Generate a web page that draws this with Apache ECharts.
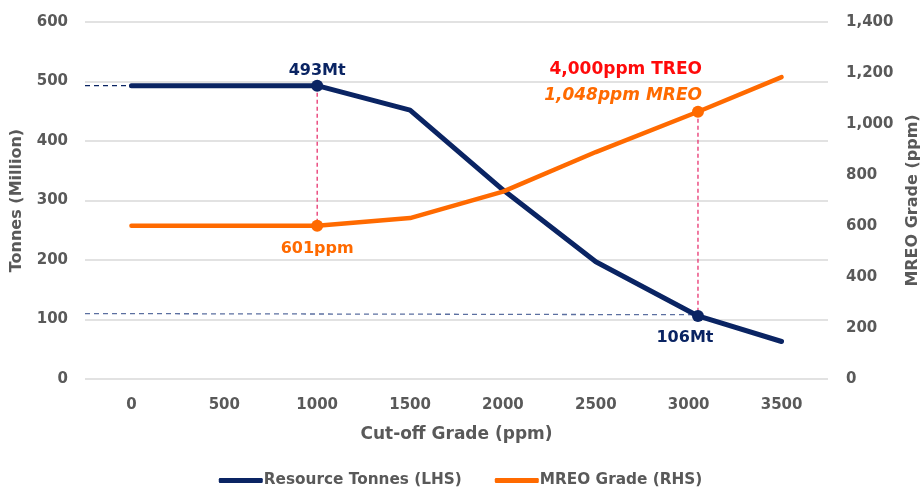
<!DOCTYPE html>
<html>
<head>
<meta charset="utf-8">
<script src="https://cdn.jsdelivr.net/npm/echarts@6/dist/echarts.min.js"></script>
<style>html,body{margin:0;padding:0;background:#fff}#c{width:921px;height:494px}</style>
</head>
<body>
<div id="c"></div>
<script>
// ---- data ----
var categories = ['0','500','1000','1500','2000','2500','3000','3500'];
var cutoff = [0, 500, 1000, 1500, 2000, 2500, 3050, 3500];
var tonnes = [493, 493, 493, 452, 318, 197, 106, 63];
var grade = [601, 601, 601, 631, 735, 890, 1048, 1184];
var leftTicks = [0, 600, 100];
var rightTicks = [0, 1400, 200];
var markA = {cutoff: 1000, tonnes: 493, grade: 601};
var markB = {cutoff: 3050, tonnes: 106, grade: 1048, treo: '4,000ppm TREO', mreo: '1,048ppm MREO'};
var guideTonnesB = 110;

var NAVY = '#0a2463', ORANGE = '#ff6a00', GRAY = '#595959', PINK = '#e8336f', RED = '#ff0a0a';
var FONT = 'DejaVu Sans';
function pairs(xs, ys){ return xs.map(function(x,i){ return [x, ys[i]]; }); }
var ratio = leftTicks[1] / rightTicks[1];

var chart = echarts.init(document.getElementById('c'));
chart.setOption({
  animation: false,
  textStyle: {fontFamily: FONT},
  grid: {left: 85, right: 93, top: 22, bottom: 115, containLabel: false, outerBoundsMode: 'none'},
  legend: {
    bottom: 1, left: 'center', itemWidth: 44, itemHeight: 5, itemGap: 33,
    icon: 'roundRect',
    data: ['Resource Tonnes (LHS)', 'MREO Grade (RHS)'],
    textStyle: {color: GRAY, fontWeight: 'bold', fontSize: 15.3, fontFamily: FONT, padding: [0,0,0,-4]}
  },
  xAxis: [
    {type: 'category', data: categories, boundaryGap: true,
     axisLine: {show: false}, axisTick: {show: false},
     axisLabel: {color: GRAY, fontWeight: 'bold', fontSize: 15, fontFamily: FONT, margin: 19},
     name: 'Cut-off Grade (ppm)', nameLocation: 'middle', nameGap: 47,
     nameTextStyle: {color: GRAY, fontWeight: 'bold', fontSize: 17, fontFamily: FONT}},
    {type: 'value', min: -250, max: 3750, show: false}
  ],
  yAxis: [
    {type: 'value', min: leftTicks[0], max: leftTicks[1], interval: leftTicks[2],
     axisLine: {show: false}, axisTick: {show: false},
     splitLine: {lineStyle: {color: '#d9d9d9', width: 1.5}},
     axisLabel: {color: GRAY, fontWeight: 'bold', fontSize: 15, fontFamily: FONT, margin: 17},
     name: 'Tonnes (Million)', nameLocation: 'middle', nameRotate: 90, nameGap: 60,
     nameTextStyle: {color: GRAY, fontWeight: 'bold', fontSize: 16, fontFamily: FONT}},
    {type: 'value', min: rightTicks[0], max: rightTicks[1], interval: rightTicks[2],
     axisLine: {show: false}, axisTick: {show: false}, splitLine: {show: false},
     axisLabel: {color: GRAY, fontWeight: 'bold', fontSize: 15, fontFamily: FONT, margin: 18,
       formatter: function(v){ return v.toLocaleString('en-US'); }},
     name: 'MREO Grade (ppm)', nameLocation: 'middle', nameRotate: 90, nameGap: 77,
     nameTextStyle: {color: GRAY, fontWeight: 'bold', fontSize: 16, fontFamily: FONT}}
  ],
  series: [
    {type: 'line', xAxisIndex: 1, yAxisIndex: 0, symbol: 'none', silent: true, z: 1,
     lineStyle: {color: NAVY, width: 1.3, type: [5, 4]},
     data: [[-250, markA.tonnes], [markA.cutoff, markA.tonnes]]},
    {type: 'line', xAxisIndex: 1, yAxisIndex: 0, symbol: 'none', silent: true, z: 1,
     lineStyle: {color: '#5b6fa0', width: 1.3, type: [5, 4]},
     data: [[-250, guideTonnesB], [markB.cutoff, markB.tonnes + 2]]},
    {type: 'line', xAxisIndex: 1, yAxisIndex: 0, symbol: 'none', silent: true, z: 1,
     lineStyle: {color: PINK, width: 1.3, type: [4, 3]},
     data: [[markA.cutoff, markA.tonnes], [markA.cutoff, markA.grade * ratio]]},
    {type: 'line', xAxisIndex: 1, yAxisIndex: 0, symbol: 'none', silent: true, z: 1,
     lineStyle: {color: PINK, width: 1.3, type: [4, 3]},
     data: [[markB.cutoff, markB.grade * ratio], [markB.cutoff, markB.tonnes]]},
    {name: 'Resource Tonnes (LHS)', type: 'line', xAxisIndex: 1, yAxisIndex: 0, symbol: 'none', z: 3,
     itemStyle: {color: NAVY},
     lineStyle: {color: NAVY, width: 5, cap: 'round', join: 'round'},
     data: pairs(cutoff, tonnes)},
    {name: 'MREO Grade (RHS)', type: 'line', xAxisIndex: 1, yAxisIndex: 1, symbol: 'none', z: 3,
     itemStyle: {color: ORANGE},
     lineStyle: {color: ORANGE, width: 4.5, cap: 'round', join: 'round'},
     data: pairs(cutoff, grade)},
    {type: 'scatter', xAxisIndex: 1, yAxisIndex: 0, symbolSize: 12, z: 5,
     itemStyle: {color: NAVY, opacity: 1},
     label: {show: true, color: NAVY, opacity: 1, fontWeight: 'bold', fontSize: 16, fontFamily: FONT,
       formatter: function(p){ return p.value[1] + 'Mt'; }},
     data: [
       {value: [markA.cutoff, markA.tonnes], label: {position: 'top', distance: 1}},
       {value: [markB.cutoff, markB.tonnes], label: {position: 'bottom', distance: 8, offset: [-13, 0]}}
     ]},
    {type: 'scatter', xAxisIndex: 1, yAxisIndex: 1, symbolSize: 12, z: 5,
     itemStyle: {color: ORANGE, opacity: 1},
     data: [
       {value: [markA.cutoff, markA.grade],
        label: {show: true, opacity: 1, position: 'bottom', distance: 9, color: ORANGE, fontWeight: 'bold', fontSize: 16, fontFamily: FONT,
          formatter: markA.grade + 'ppm'}},
       {value: [markB.cutoff, markB.grade],
        label: {show: true, opacity: 1, position: 'top', distance: 5, align: 'right', offset: [4, 8],
          formatter: '{a|' + markB.treo + '}\n{b|' + markB.mreo + '}',
          rich: {
            a: {color: RED, fontWeight: 'bold', fontSize: 17, fontFamily: FONT, lineHeight: 26, align: 'right'},
            b: {color: ORANGE, fontWeight: 'bold', fontStyle: 'italic', fontSize: 17, fontFamily: FONT, lineHeight: 26, align: 'right'}
          }}}
     ]}
  ]
});
</script>
</body>
</html>
